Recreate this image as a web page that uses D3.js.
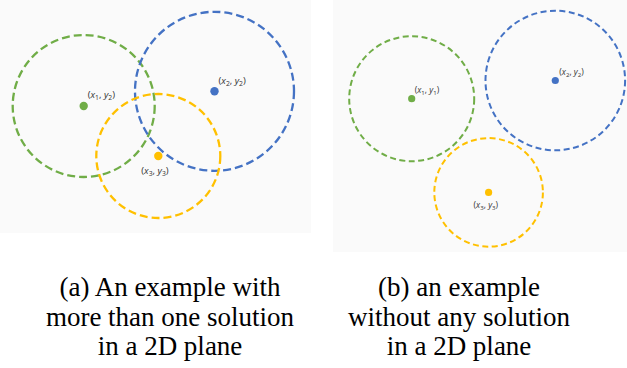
<!DOCTYPE html>
<html>
<head>
<meta charset="utf-8">
<script src="https://cdn.jsdelivr.net/npm/d3@7/dist/d3.min.js"></script>
<style>
  html, body { margin: 0; padding: 0; background: #ffffff; }
  svg { display: block; }
  .cap { font-family: "Liberation Serif", "Times New Roman", serif; }
  .lbl { font-family: "Open Sans", "DejaVu Sans", sans-serif; }
</style>
</head>
<body>
<svg id="chart" width="627" height="368"></svg>
<script>
// Panel (a): three overlapping range circles
const circlesA_names  = ["green", "blue", "yellow"];
const circlesA_cx     = [83.7, 214.5, 158.3];
const circlesA_cy     = [106.0, 91.3, 156.0];
const circlesA_r      = [71.0, 79.5, 62.0];
const circlesA_labels = [["x","1","y","2"], ["x","2","y","2"], ["x","3","y","3"]];

// Panel (b): three disjoint range circles (x offset from the panel's left edge)
const circlesB_names  = ["green", "blue", "yellow"];
const circlesB_cx     = [78.7, 222.3, 155.6];
const circlesB_cy     = [98.7, 80.5, 192.4];
const circlesB_r      = [62.5, 69.8, 54.3];
const circlesB_labels = [["x","1","y","1"], ["x","2","y","2"], ["x","3","y","3"]];

const captionsA = ["(a) An example with", "more than one solution", "in a 2D plane"];
const captionsB = ["(b) an example", "without any solution", "in a 2D plane"];

const palette = { green: "#70ad47", blue: "#4472c4", yellow: "#ffc000" };

const svg = d3.select("#chart");

function panel(opt) {
  const g = svg.append("g");
  g.append("rect")
    .attr("x", opt.x0).attr("y", 0)
    .attr("width", opt.w).attr("height", opt.h)
    .attr("fill", "#fafafa");

  const x = d3.scaleLinear().domain([0, opt.w]).range([opt.x0, opt.x0 + opt.w]);
  const y = d3.scaleLinear().domain([0, opt.h]).range([0, opt.h]);
  const r = d3.scaleLinear().domain([0, opt.w]).range([0, opt.w]);

  const data = opt.names.map((n, i) => ({
    name: n, cx: opt.cx[i], cy: opt.cy[i], r: opt.r[i], label: opt.labels[i], off: opt.labelOff[i]
  }));

  g.selectAll("circle.ring").data(data).join("circle")
    .attr("class", "ring")
    .attr("cx", d => x(d.cx)).attr("cy", d => y(d.cy)).attr("r", d => r(d.r))
    .attr("fill", "none")
    .attr("stroke", d => palette[d.name])
    .attr("stroke-width", opt.sw)
    .attr("stroke-dasharray", opt.dash);

  g.selectAll("circle.dot").data(data).join("circle")
    .attr("class", "dot")
    .attr("cx", d => x(d.cx)).attr("cy", d => y(d.cy)).attr("r", opt.dot)
    .attr("fill", d => palette[d.name]);

  const t = g.selectAll("text.lbl").data(data).join("text")
    .attr("class", "lbl")
    .attr("x", d => x(d.cx) + d.off[0])
    .attr("y", d => y(d.cy) + d.off[1])
    .attr("font-size", opt.fs)
    .attr("fill", "#333");
  t.each(function(d) {
    const s = d3.select(this);
    s.append("tspan").text("(");
    s.append("tspan").attr("font-style", "italic").text(d.label[0]);
    s.append("tspan").attr("font-size", opt.fs * 0.72).attr("dy", 2).text(d.label[1]);
    s.append("tspan").attr("dy", -2).text(", ");
    s.append("tspan").attr("font-style", "italic").text(d.label[2]);
    s.append("tspan").attr("font-size", opt.fs * 0.72).attr("dy", 2).text(d.label[3]);
    s.append("tspan").attr("dy", -2).text(")");
  });

  g.selectAll("text.cap").data(opt.captions).join("text")
    .attr("class", "cap")
    .attr("x", opt.capX)
    .attr("y", (d, i) => 296 + i * 29.5)
    .attr("text-anchor", "middle")
    .attr("font-size", 27)
    .attr("fill", "#000")
    .text(d => d);
}

panel({
  x0: 0, w: 311, h: 233,
  names: circlesA_names, cx: circlesA_cx, cy: circlesA_cy, r: circlesA_r, labels: circlesA_labels,
  labelOff: [[4, -8], [4, -7], [-17, 18]],
  sw: 2.3, dash: "8,4", dot: 4.2, fs: 9.5,
  captions: captionsA, capX: 170
});

panel({
  x0: 333, w: 294, h: 252,
  names: circlesB_names, cx: circlesB_cx, cy: circlesB_cy, r: circlesB_r, labels: circlesB_labels,
  labelOff: [[3, -6], [4, -6], [-15, 16]],
  sw: 2.0, dash: "6,3.5", dot: 3.6, fs: 8.5,
  captions: captionsB, capX: 459
});
</script>
</body>
</html>
